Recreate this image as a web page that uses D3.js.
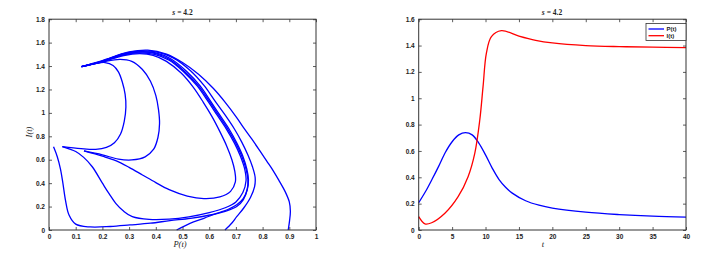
<!DOCTYPE html>
<html><head><meta charset="utf-8">
<script src="https://cdn.jsdelivr.net/npm/d3@7"></script>
<style>
body{margin:0;background:#fff;}
svg{display:block;}
.tick text{font-family:"Liberation Sans",Arial,sans-serif;font-weight:bold;font-size:6.5px;fill:#222;}
</style></head><body>
<svg id="chart" width="717" height="259"></svg>
<script>
// ---------- DATA ----------
const title = "s = 4.2";
const phaseXTicks = [0,0.1,0.2,0.3,0.4,0.5,0.6,0.7,0.8,0.9,1];
const phaseYTicks = [0,0.2,0.4,0.6,0.8,1,1.2,1.4,1.6,1.8];
const timeXTicks = [0,5,10,15,20,25,30,35,40];
const timeYTicks = [0,0.2,0.4,0.6,0.8,1,1.2,1.4,1.6];

// phase trajectories [P, I]
const traj1 = [[0.017,0.71],[0.031,0.626],[0.043,0.52],[0.052,0.4],[0.062,0.25],[0.075,0.128],[0.1,0.05],[0.154,0.026],[0.23,0.03],[0.303,0.043],[0.38,0.058],[0.453,0.08],[0.53,0.1],[0.603,0.128],[0.66,0.16],[0.703,0.2],[0.728,0.26],[0.742,0.34],[0.745,0.43],[0.738,0.52],[0.722,0.63],[0.7,0.74],[0.67,0.86],[0.635,0.98],[0.6,1.1],[0.56,1.23],[0.51,1.35],[0.453,1.455],[0.4,1.507],[0.34,1.518],[0.28,1.5],[0.2,1.44],[0.122,1.395]];
const traj2 = [[0.05,0.712],[0.1,0.67],[0.13,0.62],[0.162,0.54],[0.2,0.40],[0.225,0.31],[0.25,0.228],[0.28,0.16],[0.312,0.114],[0.375,0.09],[0.45,0.092],[0.524,0.112],[0.6,0.148],[0.66,0.19],[0.7,0.24],[0.726,0.32],[0.738,0.42],[0.733,0.52],[0.717,0.63],[0.695,0.74],[0.665,0.86],[0.63,0.98],[0.595,1.1],[0.555,1.23],[0.505,1.35],[0.45,1.45],[0.395,1.5],[0.34,1.513],[0.28,1.496],[0.2,1.438],[0.122,1.395]];
const traj3 = [[0.05,0.712],[0.12,0.695],[0.175,0.689],[0.215,0.705],[0.245,0.745],[0.268,0.82],[0.282,0.93],[0.288,1.05],[0.285,1.16],[0.275,1.26],[0.26,1.35],[0.24,1.405],[0.21,1.43],[0.17,1.42],[0.122,1.395]];
const traj4 = [[0.131,0.675],[0.2,0.642],[0.26,0.605],[0.31,0.598],[0.36,0.625],[0.392,0.69],[0.408,0.79],[0.414,0.91],[0.41,1.03],[0.4,1.15],[0.38,1.27],[0.35,1.37],[0.31,1.44],[0.266,1.457],[0.2,1.434],[0.122,1.395]];
const traj5 = [[0.131,0.675],[0.2,0.63],[0.25,0.592],[0.3,0.535],[0.35,0.47],[0.4,0.405],[0.45,0.345],[0.518,0.29],[0.58,0.268],[0.64,0.282],[0.68,0.33],[0.698,0.41],[0.696,0.5],[0.685,0.6],[0.665,0.72],[0.64,0.84],[0.61,0.97],[0.578,1.09],[0.54,1.22],[0.495,1.34],[0.44,1.44],[0.39,1.492],[0.34,1.506],[0.28,1.49],[0.2,1.436],[0.122,1.395]];
const traj6 = [[0.478,0],[0.528,0.057],[0.58,0.1],[0.628,0.142],[0.67,0.175],[0.703,0.215],[0.728,0.27],[0.743,0.35],[0.747,0.43],[0.741,0.52],[0.726,0.63],[0.704,0.74],[0.675,0.86],[0.64,0.98],[0.605,1.1],[0.566,1.23],[0.515,1.355],[0.456,1.462],[0.4,1.512],[0.34,1.523],[0.28,1.503],[0.2,1.442],[0.122,1.395]];
const traj7 = [[0.659,0],[0.685,0.06],[0.703,0.114],[0.73,0.19],[0.755,0.28],[0.77,0.37],[0.772,0.45],[0.762,0.54],[0.745,0.64],[0.722,0.75],[0.695,0.86],[0.66,0.98],[0.622,1.1],[0.582,1.23],[0.53,1.36],[0.465,1.47],[0.405,1.518],[0.345,1.53],[0.28,1.507],[0.2,1.443],[0.122,1.395]];
const traj8 = [[0.896,0],[0.901,0.08],[0.904,0.16],[0.9,0.24],[0.884,0.33],[0.862,0.42],[0.84,0.505],[0.815,0.59],[0.79,0.675],[0.76,0.775],[0.73,0.87],[0.703,0.96],[0.66,1.09],[0.615,1.21],[0.56,1.33],[0.5,1.43],[0.44,1.502],[0.37,1.536],[0.3,1.52],[0.2,1.446],[0.122,1.395]];
const trajectories = [traj1,traj2,traj3,traj4,traj5,traj6,traj7,traj8];

// time series
const tP = [0,1,2,3,4,5,6,7,8,9,10,11,12,13,14,16,18,20,25,30,35,40];
const valP = [0.207,0.29,0.385,0.485,0.59,0.67,0.722,0.739,0.722,0.66,0.57,0.47,0.385,0.325,0.28,0.222,0.188,0.166,0.135,0.117,0.105,0.098];
const tI = [0,0.94,1.94,3.92,5.9,7.39,8.39,9.14,9.63,10.13,10.88,12.37,15,17.5,20,25,30,35,40];
const valI = [0.101,0.046,0.055,0.127,0.253,0.405,0.582,0.835,1.088,1.342,1.468,1.513,1.472,1.44,1.42,1.4,1.392,1.388,1.384];
const legendLabels = ["P(t)","I(t)"];
const colors = ["#0000ff","#ff0000"];

// ---------- DRAW ----------
const svg = d3.select("#chart");

function box(g, x, y, xTicks, yTicks, xFmt, yFmt){
  const [x0,x1] = x.range(), [y0,y1] = y.range();
  g.append("g").attr("transform",`translate(0,${y0})`)
   .call(d3.axisBottom(x).tickValues(xTicks).tickSizeInner(-3).tickSizeOuter(0).tickPadding(4).tickFormat(xFmt));
  g.append("g").attr("transform",`translate(0,${y1})`)
   .call(d3.axisTop(x).tickValues(xTicks).tickSizeInner(-3).tickSizeOuter(0).tickFormat(""));
  g.append("g").attr("transform",`translate(${x0},0)`)
   .call(d3.axisLeft(y).tickValues(yTicks).tickSizeInner(-3).tickSizeOuter(0).tickPadding(4).tickFormat(yFmt));
  g.append("g").attr("transform",`translate(${x1},0)`)
   .call(d3.axisRight(y).tickValues(yTicks).tickSizeInner(-3).tickSizeOuter(0).tickFormat(""));
  g.selectAll(".domain").remove();
  g.selectAll(".tick line").attr("stroke","#333").attr("stroke-width",0.8);
  g.append("rect").attr("x",x0).attr("y",y1).attr("width",x1-x0).attr("height",y0-y1)
   .attr("fill","none").attr("stroke","#333").attr("stroke-width",1);
}
const fmt = d => d3.format("~g")(d);

// left phase plot
const xL = d3.scaleLinear().domain([0,1]).range([49,316]);
const yL = d3.scaleLinear().domain([0,1.8]).range([230,19.2]);
const gL = svg.append("g");
const lineL = d3.line().x(d=>xL(d[0])).y(d=>yL(d[1])).curve(d3.curveCatmullRom.alpha(0.5));
gL.selectAll("path.traj").data(trajectories).join("path").attr("class","traj")
  .attr("d",lineL).attr("fill","none").attr("stroke",colors[0]).attr("stroke-width",1.3);
box(gL,xL,yL,phaseXTicks,phaseYTicks,fmt,fmt);

// right time plot
const xR = d3.scaleLinear().domain([0,40]).range([418.7,686]);
const yR = d3.scaleLinear().domain([0,1.6]).range([230,19.2]);
const gR = svg.append("g");
const seriesP = tP.map((t,i)=>[t,valP[i]]);
const seriesI = tI.map((t,i)=>[t,valI[i]]);
const lineR = d3.line().x(d=>xR(d[0])).y(d=>yR(d[1])).curve(d3.curveCatmullRom.alpha(0.5));
gR.append("path").datum(seriesP).attr("d",lineR).attr("fill","none").attr("stroke",colors[0]).attr("stroke-width",1.3);
gR.append("path").datum(seriesI).attr("d",lineR).attr("fill","none").attr("stroke",colors[1]).attr("stroke-width",1.3);
box(gR,xR,yR,timeXTicks,timeYTicks,fmt,fmt);

// legend
const lg = gR.append("g");
lg.append("rect").attr("x",646).attr("y",23.5).attr("width",40).attr("height",17)
  .attr("fill","#fff").attr("stroke","#333").attr("stroke-width",0.8);
legendLabels.forEach((lab,i)=>{
  const yy = 29 + i*6.7;
  lg.append("line").attr("x1",648.5).attr("x2",664).attr("y1",yy).attr("y2",yy)
    .attr("stroke",colors[i]).attr("stroke-width",1.3);
  lg.append("text").attr("x",666.5).attr("y",yy+2.2).text(lab)
    .attr("font-family","Liberation Sans, Arial, sans-serif").attr("font-weight","bold").attr("font-size","6px").attr("fill","#222");
});

// titles & labels
function titleText(cx){
  const t = svg.append("text").attr("x",cx).attr("y",15).attr("text-anchor","middle")
    .attr("font-family","Liberation Serif, Times New Roman, serif").attr("font-weight","bold").attr("font-size","7.5px").attr("fill","#222");
  t.append("tspan").attr("font-style","italic").text("s");
  t.append("tspan").text(" = 4.2");
}
titleText(182.5);
titleText(552);

svg.append("text").attr("x",180).attr("y",247).attr("text-anchor","middle")
  .attr("font-family","Liberation Serif, Times New Roman, serif").attr("font-style","italic").attr("font-size","8.5px").attr("fill","#222").text("P(t)");
svg.append("text").attr("transform","translate(32,132) rotate(-90)").attr("text-anchor","middle")
  .attr("font-family","Liberation Serif, Times New Roman, serif").attr("font-style","italic").attr("font-size","8.5px").attr("fill","#222").text("I(t)");
svg.append("text").attr("x",543).attr("y",247).attr("text-anchor","middle")
  .attr("font-family","Liberation Serif, Times New Roman, serif").attr("font-style","italic").attr("font-size","8.5px").attr("fill","#222").text("t");
</script>
</body></html>
